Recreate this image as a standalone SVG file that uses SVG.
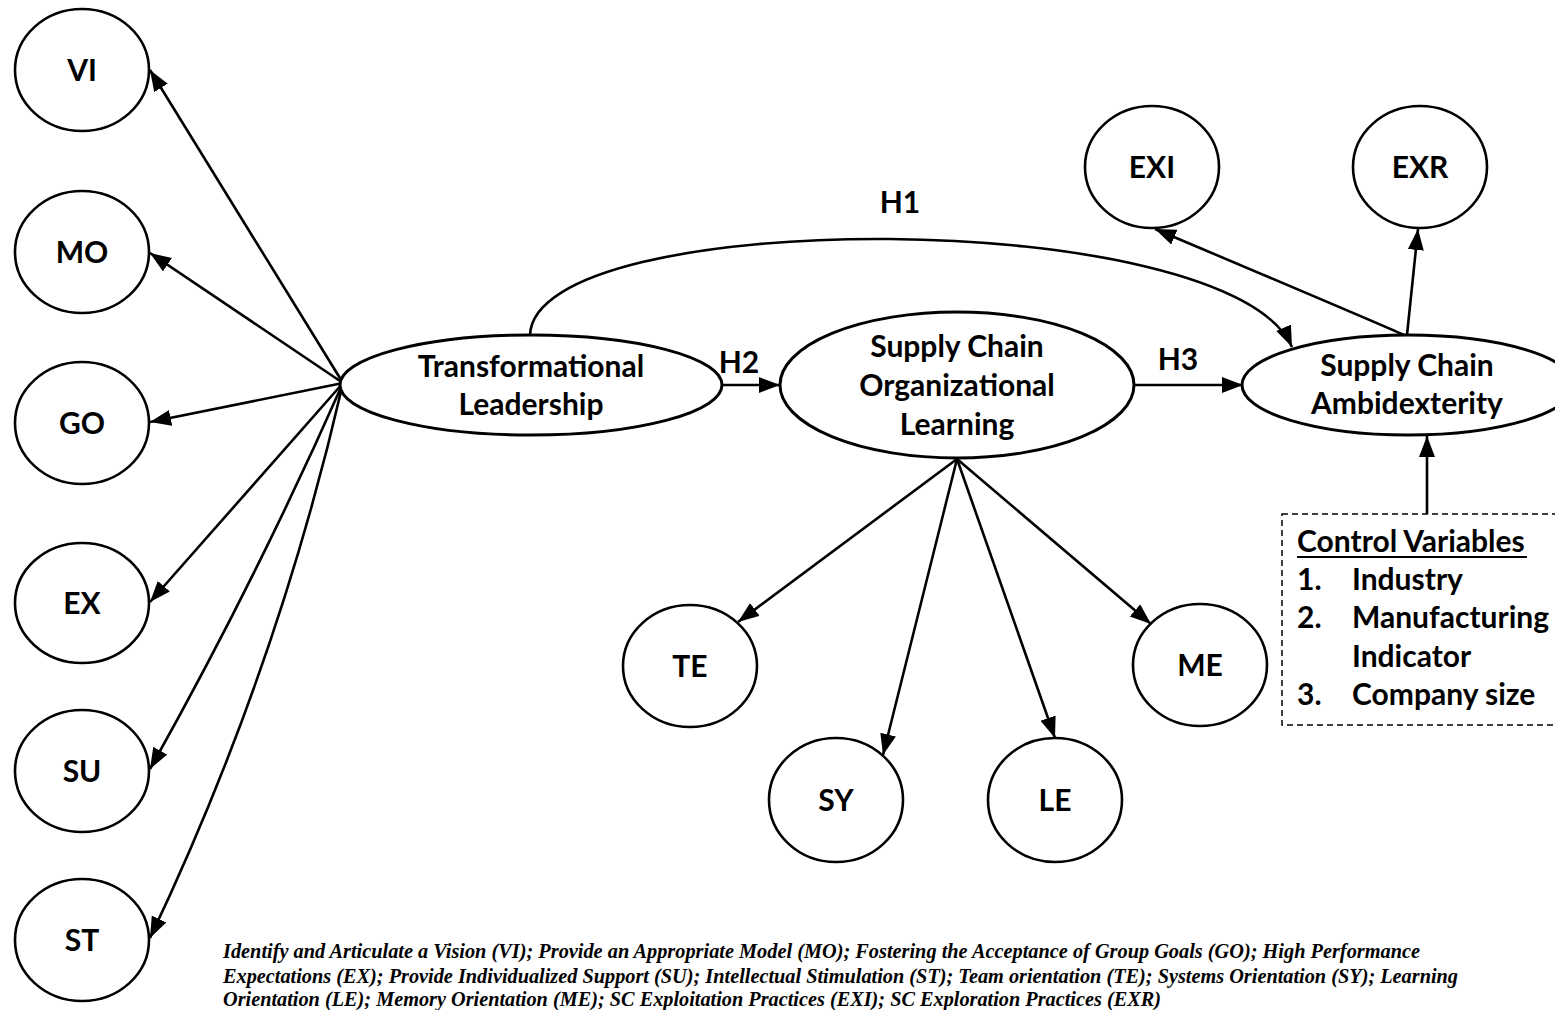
<svg xmlns="http://www.w3.org/2000/svg" width="1555" height="1010" viewBox="0 0 1555 1010">
<defs>
<style>
.n{fill:#fff;stroke:#000;stroke-width:2.6}
.big{fill:#fff;stroke:#000;stroke-width:3}
.lb{font-family:Lato,"Open Sans","Liberation Sans",sans-serif;font-weight:700;font-size:30px;fill:#000;text-anchor:middle}
.cv{font-family:Lato,"Open Sans","Liberation Sans",sans-serif;font-weight:700;font-size:30px;fill:#000}
.e{fill:none;stroke:#000;stroke-width:2.6;marker-end:url(#ah)}
.fn{font-family:"Liberation Serif","Times New Roman",serif;font-weight:700;font-style:italic;font-size:20px;fill:#000}
</style>
<marker id="ah" markerUnits="userSpaceOnUse" markerWidth="24" markerHeight="18" refX="21" refY="8" orient="auto">
<path d="M0,0 L21,8 L0,16 z" fill="#000"/>
</marker>
</defs>
<rect width="1555" height="1010" fill="#fff"/>

<g id="connectors">
<path class="e" d="M343,383 L150,70"/>
<path class="e" d="M343,383 L150,253"/>
<path class="e" d="M343,383 L150,422"/>
<path class="e" d="M343,383 Q249,489 150,602"/>
<path class="e" d="M343,383 Q256,580 150,769"/>
<path class="e" d="M343,383 Q277,671 150,938"/>
<path class="e" d="M722,385 L780,385"/>
<path class="e" d="M530,335 C535,205 1230,205 1292,347"/>
<path class="e" d="M1133,385 L1243,385"/>
<path class="e" d="M957,459 L738,622"/>
<path class="e" d="M957,459 L883,755"/>
<path class="e" d="M957,459 L1055,738"/>
<path class="e" d="M957,459 L1151,624"/>
<path class="e" d="M1404,335 Q1375,322 1155,229"/>
<path class="e" d="M1407,335 L1418,229"/>
<path class="e" d="M1427,514 L1427,436"/>
</g>

<g id="node-VI"><ellipse class="n" cx="82" cy="70" rx="67" ry="61"/><text class="lb" x="82" y="81">VI</text></g>
<g id="node-MO"><ellipse class="n" cx="82" cy="252" rx="67" ry="61"/><text class="lb" x="82" y="263">MO</text></g>
<g id="node-GO"><ellipse class="n" cx="82" cy="423" rx="67" ry="61"/><text class="lb" x="82" y="434">GO</text></g>
<g id="node-EX"><ellipse class="n" cx="82" cy="603" rx="67" ry="60"/><text class="lb" x="82" y="614">EX</text></g>
<g id="node-SU"><ellipse class="n" cx="82" cy="771" rx="67" ry="61"/><text class="lb" x="82" y="782">SU</text></g>
<g id="node-ST"><ellipse class="n" cx="82" cy="940" rx="67" ry="61"/><text class="lb" x="82" y="951">ST</text></g>

<g id="node-TL"><ellipse class="big" cx="531" cy="385" rx="191" ry="50"/><text class="lb" x="531" y="377">Transformational</text><text class="lb" x="531" y="415">Leadership</text></g>
<g id="node-SCOL"><ellipse class="big" cx="957" cy="385" rx="177" ry="73"/><text class="lb" x="957" y="357">Supply Chain</text><text class="lb" x="957" y="396">Organizational</text><text class="lb" x="957" y="435">Learning</text></g>
<g id="node-SCA"><ellipse class="big" cx="1408" cy="385" rx="166" ry="50"/><text class="lb" x="1407" y="376">Supply Chain</text><text class="lb" x="1407" y="414">Ambidexterity</text></g>

<g id="node-EXI"><ellipse class="n" cx="1152" cy="167" rx="67" ry="61"/><text class="lb" x="1152" y="178">EXI</text></g>
<g id="node-EXR"><ellipse class="n" cx="1420" cy="167" rx="67" ry="61"/><text class="lb" x="1420" y="178">EXR</text></g>

<g id="node-TE"><ellipse class="n" cx="690" cy="666" rx="67" ry="61"/><text class="lb" x="690" y="677">TE</text></g>
<g id="node-SY"><ellipse class="n" cx="836" cy="800" rx="67" ry="62"/><text class="lb" x="836" y="811">SY</text></g>
<g id="node-LE"><ellipse class="n" cx="1055" cy="800" rx="67" ry="62"/><text class="lb" x="1055" y="811">LE</text></g>
<g id="node-ME"><ellipse class="n" cx="1200" cy="665" rx="67" ry="61"/><text class="lb" x="1200" y="676">ME</text></g>

<g id="labels">
<text class="lb" x="900" y="213">H1</text>
<text class="lb" x="739" y="373">H2</text>
<text class="lb" x="1178" y="370">H3</text>
</g>

<g id="node-controls">
<rect x="1282" y="514" width="300" height="211" fill="none" stroke="#000" stroke-width="1.5" stroke-dasharray="6,4"/>
<text class="cv" x="1297" y="552">Control Variables</text>
<line x1="1297" y1="557" x2="1527" y2="557" stroke="#000" stroke-width="2"/>
<text class="cv" x="1297" y="590">1.</text><text class="cv" x="1352" y="590">Industry</text>
<text class="cv" x="1297" y="628">2.</text><text class="cv" x="1352" y="628">Manufacturing</text>
<text class="cv" x="1352" y="667">Indicator</text>
<text class="cv" x="1297" y="705">3.</text><text class="cv" x="1352" y="705">Company size</text>
</g>

<g id="footnote">
<text class="fn" x="223" y="958" textLength="1197" lengthAdjust="spacingAndGlyphs">Identify and Articulate a Vision (VI); Provide an Appropriate Model (MO); Fostering the Acceptance of Group Goals (GO); High Performance</text>
<text class="fn" x="223" y="983" textLength="1235" lengthAdjust="spacingAndGlyphs">Expectations (EX); Provide Individualized Support (SU); Intellectual Stimulation (ST); Team orientation (TE); Systems Orientation (SY); Learning</text>
<text class="fn" x="223" y="1006" textLength="938" lengthAdjust="spacingAndGlyphs">Orientation (LE); Memory Orientation (ME); SC Exploitation Practices (EXI); SC Exploration Practices (EXR)</text>
</g>
</svg>
